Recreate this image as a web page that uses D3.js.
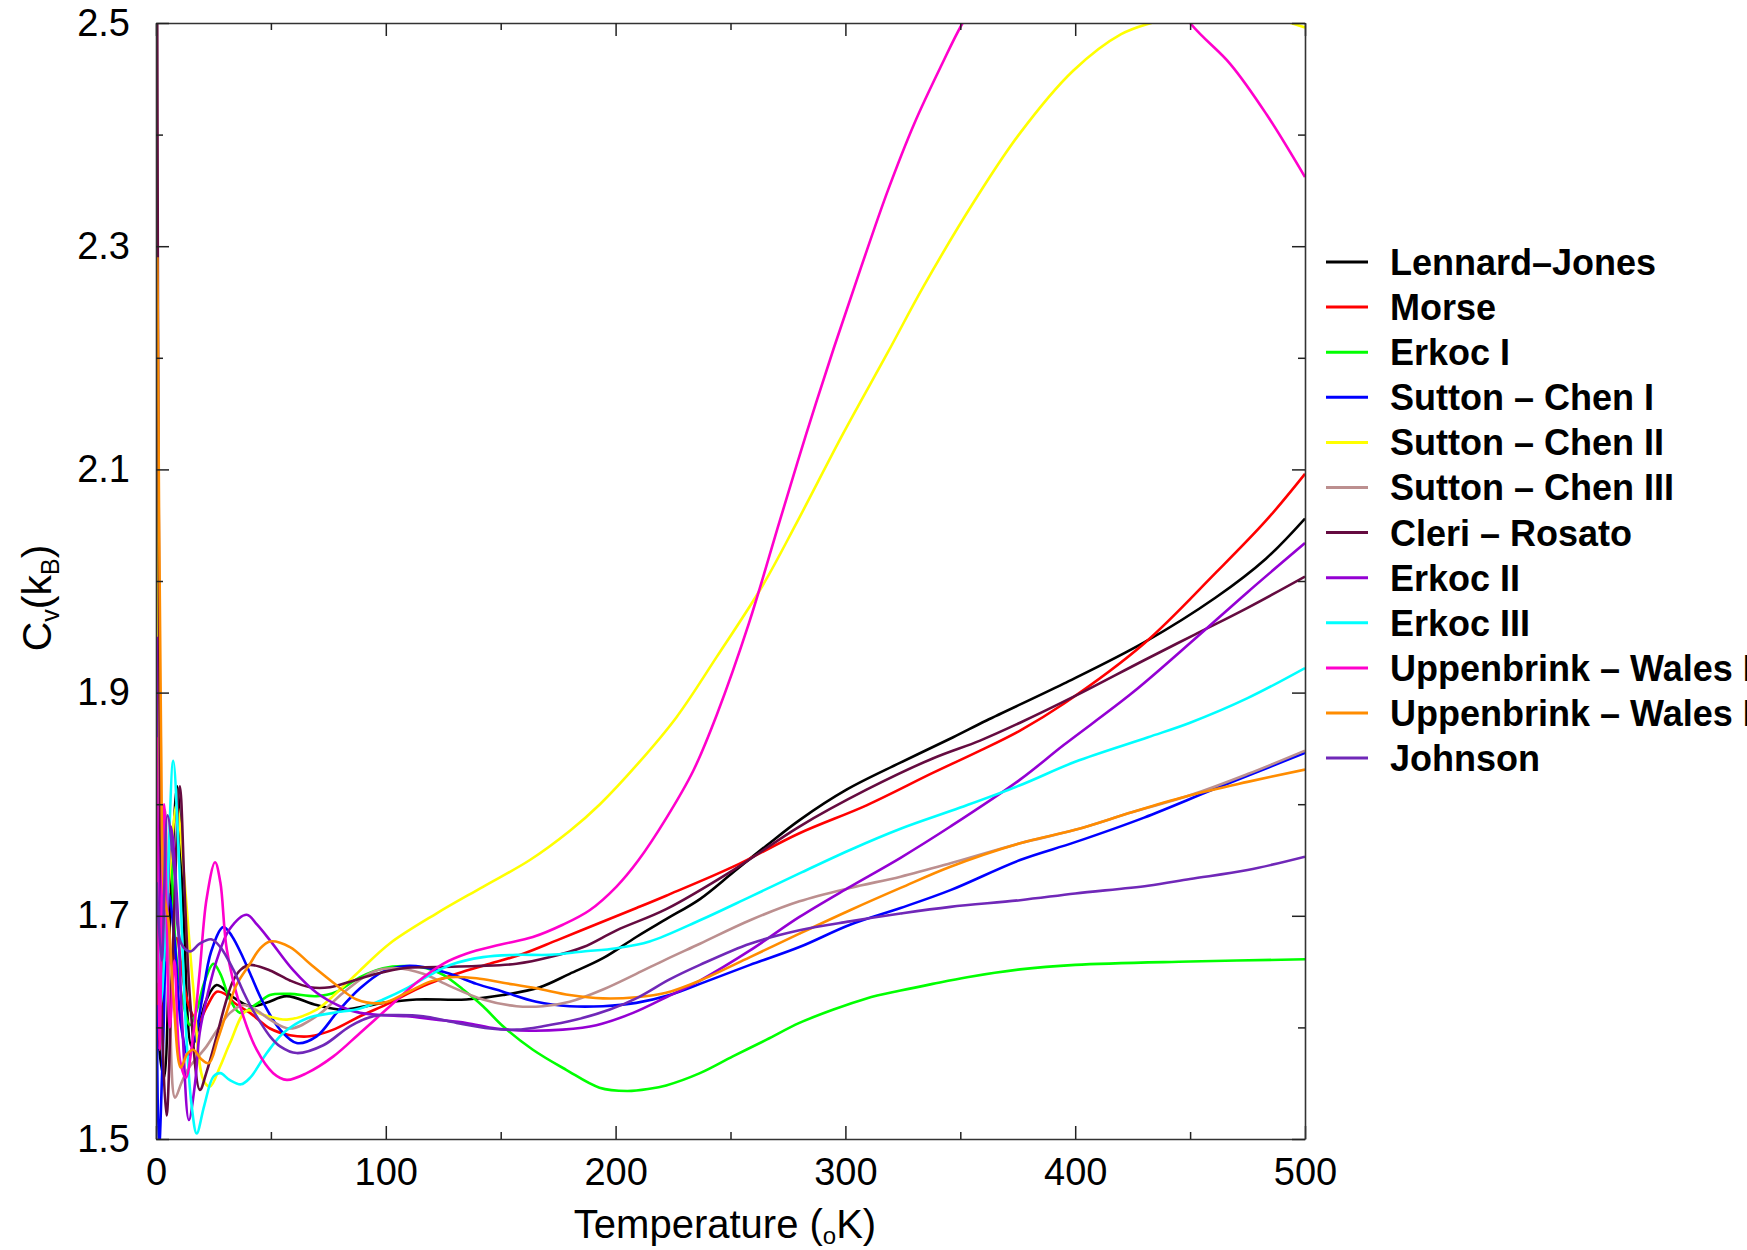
<!DOCTYPE html>
<html>
<head>
<meta charset="utf-8">
<script src="https://cdn.jsdelivr.net/npm/d3@7"></script>
<style>
  body { margin: 0; background: #fff; }
  svg { display: block; }
</style>
</head>
<body>
<svg id="chart" width="1747" height="1250"></svg>
<script>
// Cv(kB) against temperature as [T, Cv] pairs
const lennardJones = [[0.4,1.62],[2,1.57],[3.5,1.555],[6.5,1.72],[9.2,1.816],[12,1.70],[15.5,1.583],[18.5,1.60],[22,1.625],[26.4,1.638],[33.6,1.627],[40.9,1.619],[48,1.622],[56.8,1.628],[69.9,1.620],[81.5,1.616],[98.8,1.622],[113.3,1.625],[135,1.625],[151,1.629],[167,1.636],[180,1.648],[194.5,1.662],[209,1.681],[222,1.697],[236.7,1.715],[251.2,1.739],[265.7,1.763],[280.2,1.786],[300.5,1.813],[323.7,1.837],[346.9,1.860],[361.4,1.875],[395,1.908],[430,1.945],[461,1.985],[483,2.020],[500,2.056]];
const morse = [[0.4,1.66],[1.6,1.58],[3.4,1.79],[6,1.63],[9,1.68],[12,1.64],[15,1.615],[18.4,1.605],[22,1.618],[26.4,1.632],[30,1.630],[34,1.622],[40.9,1.613],[49.6,1.599],[58.3,1.593],[67,1.592],[77.2,1.598],[88.8,1.610],[101.8,1.622],[116.3,1.637],[130.8,1.648],[145.3,1.657],[159.8,1.666],[174.4,1.678],[193.5,1.694],[209.1,1.707],[222,1.718],[251.2,1.744],[280,1.774],[309.2,1.799],[338,1.828],[358.6,1.848],[376,1.866],[395,1.890],[430,1.944],[461,2.007],[483,2.054],[500,2.096]];
const erkocI = [[0.4,1.80],[1.6,1.62],[3.5,1.68],[6,1.76],[9,1.66],[12,1.62],[14.8,1.602],[17.7,1.615],[21,1.64],[25,1.657],[28,1.648],[32.2,1.625],[36.6,1.613],[43.8,1.621],[49.6,1.629],[58.3,1.630],[69.9,1.628],[78.6,1.632],[88.8,1.645],[98.8,1.653],[107.6,1.655],[117.7,1.653],[125,1.647],[133.6,1.634],[142.3,1.619],[151,1.601],[164,1.580],[178.5,1.562],[193,1.546],[205,1.543],[214.8,1.545],[222,1.548],[236.7,1.559],[251,1.574],[265.7,1.589],[280,1.604],[294.8,1.616],[309.2,1.626],[324,1.633],[338,1.639],[353,1.645],[376,1.652],[400,1.656],[450,1.659],[500,1.661]];
const suttonChenI = [[0.3,1.62],[1.3,1.49],[3,1.58],[5.5,1.72],[8,1.68],[11,1.60],[14,1.575],[17,1.59],[20,1.625],[24,1.668],[29.3,1.690],[33,1.682],[38,1.662],[41,1.648],[46.7,1.622],[54,1.598],[61.2,1.586],[69.9,1.592],[78.6,1.613],[88.8,1.635],[98.8,1.650],[109,1.655],[116.3,1.654],[127.9,1.648],[139.5,1.639],[151,1.632],[165.5,1.623],[180,1.619],[194.5,1.619],[209,1.622],[223.5,1.629],[236.7,1.639],[258.5,1.656],[280,1.672],[302,1.692],[324,1.707],[345.7,1.723],[376,1.750],[400,1.766],[430,1.788],[461,1.814],[500,1.846]];
const suttonChenII = [[0.3,2.37],[1.2,1.90],[3,1.66],[6,1.74],[9,1.80],[12,1.741],[16.2,1.636],[20.6,1.553],[23.5,1.547],[27.9,1.565],[32.2,1.586],[39.5,1.615],[47,1.611],[57,1.607],[69.9,1.616],[78.6,1.631],[88.8,1.651],[101.6,1.675],[122,1.702],[142.3,1.726],[162.7,1.75],[180,1.776],[193.2,1.800],[210,1.837],[226.5,1.878],[244,1.932],[264,1.996],[279,2.053],[299,2.132],[318.5,2.205],[334,2.264],[356,2.340],[375.5,2.400],[399,2.457],[420,2.49],[436,2.502],[465,2.52],[491,2.502],[500,2.496]];
const suttonChenIII = [[0.4,1.64],[2,1.70],[3.9,1.795],[6,1.62],[8.3,1.537],[11,1.55],[14,1.563],[18,1.573],[22,1.583],[26.4,1.597],[32.2,1.613],[38,1.620],[44,1.615],[49.6,1.607],[58.3,1.599],[69.9,1.610],[81.5,1.631],[94.6,1.650],[104.7,1.653],[116.3,1.648],[127.9,1.637],[142.3,1.625],[156.9,1.619],[168.4,1.619],[180,1.623],[194.5,1.634],[209,1.648],[222,1.661],[236.7,1.675],[258.5,1.696],[280,1.713],[302,1.725],[324,1.735],[345.7,1.747],[376,1.765],[400,1.777],[425,1.793],[450,1.808],[475,1.827],[500,1.848]];
const cleriRosato = [[0.4,2.62],[1.5,1.90],[3,1.58],[4.6,1.521],[7,1.65],[10.4,1.816],[12.5,1.72],[15,1.62],[19.1,1.544],[22,1.56],[26.4,1.592],[30,1.620],[33.6,1.642],[37,1.652],[40.9,1.656],[49.6,1.651],[58.3,1.642],[67,1.636],[75.7,1.636],[84.4,1.641],[96,1.648],[107.6,1.653],[122,1.654],[139.5,1.655],[156.9,1.657],[171.5,1.663],[186,1.672],[200.4,1.687],[222,1.706],[251.2,1.741],[280,1.780],[309.2,1.813],[338,1.841],[358.6,1.857],[376,1.873],[400,1.897],[430,1.929],[452,1.952],[475,1.976],[500,2.004]];
const erkocII = [[0.3,1.95],[1.5,1.72],[4,1.66],[6.5,1.78],[9,1.72],[11.5,1.60],[14.3,1.517],[17,1.55],[19,1.595],[22.5,1.63],[26.4,1.660],[32,1.688],[39.5,1.701],[44,1.692],[49.6,1.678],[59.8,1.651],[69.9,1.631],[80,1.619],[88.8,1.613],[98.8,1.611],[109,1.610],[122,1.607],[135,1.604],[148,1.599],[162.6,1.597],[177,1.598],[191.6,1.602],[207.6,1.613],[222,1.627],[236.7,1.642],[258.5,1.669],[280,1.699],[302,1.726],[324,1.752],[345.7,1.780],[376,1.822],[395,1.853],[425,1.90],[452,1.948],[475,1.99],[500,2.034]];
const erkocIII = [[0.3,1.75],[2,1.62],[4.5,1.70],[7.5,1.839],[10,1.75],[13,1.60],[15.5,1.53],[17.7,1.505],[21,1.53],[25,1.556],[28,1.559],[32,1.553],[37,1.549],[41,1.555],[48.2,1.577],[55.4,1.595],[65.6,1.608],[77.2,1.613],[88.8,1.617],[98.8,1.625],[109,1.635],[119.3,1.647],[128,1.656],[142.3,1.663],[156.9,1.665],[171.4,1.665],[185.9,1.668],[200.4,1.671],[214.8,1.677],[236.7,1.696],[258.5,1.717],[280,1.738],[302,1.759],[324,1.778],[350,1.797],[376,1.817],[400,1.838],[431.7,1.86],[450,1.873],[475,1.895],[500,1.922]];
const uppenbrinkWalesI = [[0.3,1.86],[1.5,1.58],[3.5,1.80],[6,1.60],[8,1.66],[10.5,1.57],[13,1.555],[16,1.59],[19,1.65],[22,1.715],[25.7,1.748],[28,1.73],[30.8,1.670],[36.6,1.619],[43.8,1.580],[51,1.559],[56.9,1.553],[65.6,1.559],[77.2,1.574],[88.8,1.595],[101.8,1.619],[113.3,1.640],[124.9,1.657],[135,1.666],[149.6,1.674],[164,1.681],[177,1.692],[188.7,1.705],[200.3,1.726],[210,1.750],[222.2,1.788],[233.8,1.830],[244,1.880],[258,1.962],[271.6,2.055],[283,2.132],[295,2.209],[306.8,2.281],[318.5,2.350],[330,2.410],[342,2.463],[351,2.50],[375,2.58],[400,2.61],[425,2.575],[450,2.50],[467.6,2.463],[483.3,2.418],[500,2.362]];
const uppenbrinkWalesII = [[0.6,2.29],[2.2,1.86],[3.5,1.72],[5.4,1.696],[7.5,1.63],[10.8,1.564],[13.5,1.576],[16.2,1.580],[19.5,1.572],[23,1.568],[27,1.59],[31,1.615],[35,1.638],[40.9,1.657],[45,1.670],[49.6,1.677],[58.3,1.672],[67,1.657],[77.2,1.640],[87.3,1.625],[99,1.622],[109,1.631],[119.3,1.641],[128,1.645],[139.5,1.644],[151,1.640],[165.5,1.635],[180,1.629],[194.5,1.626],[209,1.627],[222,1.631],[236.7,1.642],[258.5,1.663],[280,1.684],[302,1.705],[324,1.725],[345.7,1.744],[376,1.765],[400,1.777],[425,1.793],[450,1.808],[475,1.820],[500,1.831]];
const johnson = [[0.3,1.73],[2.5,1.66],[5,1.79],[8,1.74],[11,1.675],[14.8,1.668],[19,1.675],[24,1.679],[28,1.672],[33.6,1.652],[38,1.632],[40.9,1.620],[45.3,1.605],[49.6,1.592],[54,1.583],[61.2,1.577],[72.8,1.584],[84.4,1.601],[94.6,1.610],[104.7,1.611],[116.3,1.610],[130.8,1.604],[145.3,1.599],[156.9,1.598],[168.4,1.601],[183,1.607],[197.5,1.616],[209,1.626],[223.5,1.643],[236.7,1.656],[258.5,1.675],[280,1.687],[302,1.695],[324,1.702],[345.7,1.708],[376,1.714],[400,1.72],[431.7,1.727],[450,1.733],[475,1.741],[500,1.753]];

const seriesNames = ['Lennard\u2013Jones', 'Morse', 'Erkoc I', 'Sutton \u2013 Chen I', 'Sutton \u2013 Chen II',
  'Sutton \u2013 Chen III', 'Cleri \u2013 Rosato', 'Erkoc II', 'Erkoc III', 'Uppenbrink \u2013 Wales I',
  'Uppenbrink \u2013 Wales II', 'Johnson'];
const seriesValues = [lennardJones, morse, erkocI, suttonChenI, suttonChenII, suttonChenIII,
  cleriRosato, erkocII, erkocIII, uppenbrinkWalesI, uppenbrinkWalesII, johnson];
const seriesColors = ['#000000', '#ff0000', '#00ff00', '#0000ff', '#ffff00', '#bc8f8f',
  '#650b40', '#9400d3', '#00ffff', '#ff00cc', '#ff8c00', '#7028b8'];

const xMajor = [0, 100, 200, 300, 400, 500];
const xMinor = [50, 150, 250, 350, 450];
const yMajor = [1.5, 1.7, 1.9, 2.1, 2.3, 2.5];
const yMinor = [1.6, 1.8, 2.0, 2.2, 2.4];

const font = '"Liberation Sans", Arial, Helvetica, sans-serif';
const svg = d3.select('#chart');

// plot frame in page pixels
const plot = { left: 156, top: 23, right: 1305, bottom: 1139 };

const x = d3.scaleLinear().domain([0, 500]).range([plot.left, plot.right]);
const y = d3.scaleLinear().domain([1.5, 2.5]).range([plot.bottom, plot.top]);

svg.append('defs').append('clipPath').attr('id', 'plot-clip')
  .append('rect')
  .attr('x', plot.left).attr('y', plot.top)
  .attr('width', plot.right - plot.left).attr('height', plot.bottom - plot.top);

// curves
const line = d3.line()
  .x(d => x(d[0]))
  .y(d => y(d[1]))
  .curve(d3.curveCatmullRom.alpha(0.5));

const lines = svg.append('g').attr('clip-path', 'url(#plot-clip)');
seriesValues.forEach((values, i) => {
  lines.append('path')
    .datum(values)
    .attr('d', line)
    .attr('fill', 'none')
    .attr('stroke', seriesColors[i])
    .attr('stroke-width', 2.6)
    .attr('stroke-linejoin', 'round');
});

// axes, ticks point inwards on all four sides
function styleAxis(g, keepDomain) {
  if (keepDomain) {
    g.select('.domain').attr('stroke', '#333').attr('stroke-width', 1.6);
  } else {
    g.select('.domain').remove();
  }
  g.selectAll('.tick line').attr('stroke', '#222').attr('stroke-width', 1.5);
  g.selectAll('.tick text')
    .attr('font-family', font)
    .attr('font-size', 38)
    .attr('fill', '#000');
}

const atBottom = `translate(0,${plot.bottom})`;
const atTop = `translate(0,${plot.top})`;
const atLeft = `translate(${plot.left},0)`;
const atRight = `translate(${plot.right},0)`;

svg.append('g').attr('transform', atBottom)
  .call(d3.axisBottom(x).tickValues(xMajor).tickSize(-13).tickSizeOuter(0).tickPadding(19).tickFormat(d3.format('d')))
  .call(g => styleAxis(g, true));
svg.append('g').attr('transform', atBottom)
  .call(d3.axisBottom(x).tickValues(xMinor).tickSize(-7).tickFormat(''))
  .call(g => styleAxis(g, false));
svg.append('g').attr('transform', atTop)
  .call(d3.axisTop(x).tickValues(xMajor).tickSize(-13).tickSizeOuter(0).tickFormat(''))
  .call(g => styleAxis(g, true));
svg.append('g').attr('transform', atTop)
  .call(d3.axisTop(x).tickValues(xMinor).tickSize(-7).tickFormat(''))
  .call(g => styleAxis(g, false));

svg.append('g').attr('transform', atLeft)
  .call(d3.axisLeft(y).tickValues(yMajor).tickSize(-13).tickSizeOuter(0).tickPadding(26).tickFormat(d3.format('.1f')))
  .call(g => styleAxis(g, true));
svg.append('g').attr('transform', atLeft)
  .call(d3.axisLeft(y).tickValues(yMinor).tickSize(-7).tickFormat(''))
  .call(g => styleAxis(g, false));
svg.append('g').attr('transform', atRight)
  .call(d3.axisRight(y).tickValues(yMajor).tickSize(-13).tickSizeOuter(0).tickFormat(''))
  .call(g => styleAxis(g, true));
svg.append('g').attr('transform', atRight)
  .call(d3.axisRight(y).tickValues(yMinor).tickSize(-7).tickFormat(''))
  .call(g => styleAxis(g, false));

// axis titles
const xTitle = svg.append('text')
  .attr('x', 725)
  .attr('y', 1238)
  .attr('text-anchor', 'middle')
  .attr('font-family', font)
  .attr('font-size', 40)
  .attr('fill', '#000');
xTitle.append('tspan').text('Temperature (');
xTitle.append('tspan').attr('font-size', 24).attr('dy', 6).text('o');
xTitle.append('tspan').attr('dy', -6).text('K)');

const yTitle = svg.append('text')
  .attr('transform', 'translate(51,598) rotate(-90)')
  .attr('text-anchor', 'middle')
  .attr('font-family', font)
  .attr('font-size', 41)
  .attr('fill', '#000');
yTitle.append('tspan').text('C');
yTitle.append('tspan').attr('font-size', 25).attr('dy', 8).text('v');
yTitle.append('tspan').attr('dy', -8).text('(k');
yTitle.append('tspan').attr('font-size', 25).attr('dy', 8).text('B');
yTitle.append('tspan').attr('dy', -8).text(')');

// legend, runs off the right edge as in the original
const legend = svg.append('g');
const rowStep = 45.1;
seriesNames.forEach((name, i) => {
  const ly = 262 + i * rowStep;
  legend.append('line')
    .attr('x1', 1326).attr('x2', 1368)
    .attr('y1', ly).attr('y2', ly)
    .attr('stroke', seriesColors[i])
    .attr('stroke-width', 3);
  legend.append('text')
    .attr('x', 1390).attr('y', ly)
    .attr('dy', '0.36em')
    .attr('font-family', font)
    .attr('font-size', 36)
    .attr('font-weight', 'bold')
    .attr('fill', '#000')
    .text(name);
});
</script>
</body>
</html>
